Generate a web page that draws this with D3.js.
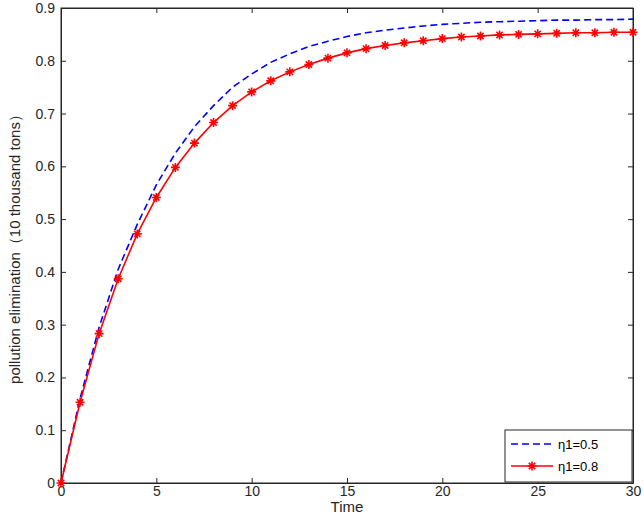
<!DOCTYPE html><html><head><meta charset="utf-8"><script src="https://cdn.jsdelivr.net/npm/d3@7"></script>
<style>body{margin:0;background:#fff}text{font-family:Arial,"Liberation Sans",sans-serif}</style></head><body><svg id="c" width="644" height="514"></svg><script>
const times=d3.range(0,31);
const blueVals=[0,.16,.295,.405,.49,.565,.625,.675,.715,.75,.775,.797,.813,.827,.837,.846,.853,.858,.862,.866,.869,.871,.873,.874,.875,.876,.877,.877,.878,.878,.879];
const redVals=[0,.153,.283,.387,.472,.541,.598,.644,.683,.715,.741,.762,.779,.793,.805,.815,.823,.829,.834,.838,.842,.845,.847,.849,.850,.851,.852,.853,.853,.854,.854];
const xTicks=[0,5,10,15,20,25,30];
const yTicks=[0,.1,.2,.3,.4,.5,.6,.7,.8,.9];
const labels=["η1=0.5","η1=0.8"];
const svg=d3.select("#c");
const L=61,R=633,T=8,B=483;
const x=d3.scaleLinear().domain([0,30]).range([L,R]);
const y=d3.scaleLinear().domain([0,.9]).range([B,T]);
const g=svg.append("g");
g.append("rect").attr("x",L).attr("y",T).attr("width",R-L).attr("height",B-T).attr("fill","#fff").attr("stroke","#262626");
const ax=g.append("g").attr("transform",`translate(0,${B})`).call(d3.axisBottom(x).tickValues(xTicks).tickSize(-5).tickSizeOuter(0).tickPadding(3));
const ay=g.append("g").attr("transform",`translate(${L},0)`).call(d3.axisLeft(y).tickValues(yTicks).tickFormat(d=>d===0?"0":d3.format(".1f")(d)).tickSize(-5).tickSizeOuter(0).tickPadding(6));
const axT=g.append("g").attr("transform",`translate(0,${T})`).call(d3.axisTop(x).tickValues(xTicks).tickSize(-5).tickSizeOuter(0).tickFormat(""));
const ayR=g.append("g").attr("transform",`translate(${R},0)`).call(d3.axisRight(y).tickValues(yTicks).tickSize(-5).tickSizeOuter(0).tickFormat(""));
[ax,ay,axT,ayR].forEach(a=>{a.select(".domain").attr("stroke","#262626");a.selectAll("line").attr("stroke","#262626");a.selectAll("text").attr("font-size",14).attr("fill","#262626").attr("font-family","Arial,Liberation Sans")});
svg.append("text").attr("x",(L+R)/2).attr("y",512).attr("text-anchor","middle").attr("font-size",15).attr("fill","#262626").text("Time");
svg.append("text").attr("transform",`translate(20,${(T+B)/2}) rotate(-90)`).attr("text-anchor","middle").attr("font-size",15).attr("fill","#262626").text("pollution elimination（10 thousand tons）");
const line=d3.line().x((d,i)=>x(times[i])).y(d=>y(d));
svg.append("path").attr("d",line(blueVals)).attr("fill","none").attr("stroke","#0000ff").attr("stroke-width",1.6).attr("stroke-dasharray","7,4");
svg.append("path").attr("d",line(redVals)).attr("fill","none").attr("stroke","#ff0000").attr("stroke-width",1.6);
const star=(sel,cx,cy)=>{const s=4.5;sel.append("path").attr("d",`M${cx-s},${cy}H${cx+s}M${cx},${cy-s}V${cy+s}M${cx-s*.7},${cy-s*.7}L${cx+s*.7},${cy+s*.7}M${cx-s*.7},${cy+s*.7}L${cx+s*.7},${cy-s*.7}`).attr("stroke","#ff0000").attr("stroke-width",1.6)};
redVals.forEach((v,i)=>star(svg,x(times[i]),y(v)));
const lg=svg.append("g");
lg.append("rect").attr("x",505).attr("y",430).attr("width",127).attr("height",52).attr("fill","#fff").attr("stroke","#262626");
lg.append("line").attr("x1",511).attr("x2",553).attr("y1",444).attr("y2",444).attr("stroke","#0000ff").attr("stroke-width",1.6).attr("stroke-dasharray","7,4");
lg.append("line").attr("x1",511).attr("x2",553).attr("y1",466).attr("y2",466).attr("stroke","#ff0000").attr("stroke-width",1.6);
star(lg,532,466);
lg.append("text").attr("x",558).attr("y",449).attr("font-size",13).attr("fill","#000").text(labels[0]);
lg.append("text").attr("x",558).attr("y",471).attr("font-size",13).attr("fill","#000").text(labels[1]);
</script></body></html>
